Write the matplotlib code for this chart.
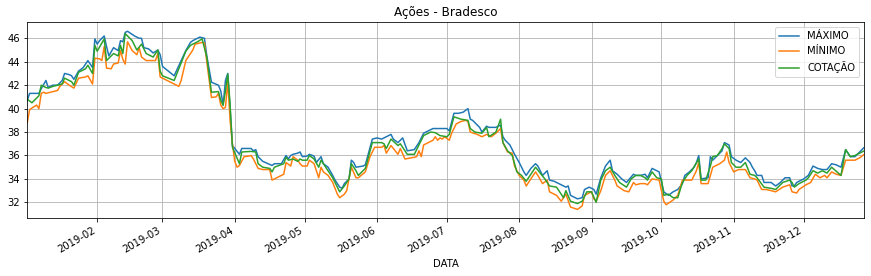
import pandas as pd
import matplotlib
matplotlib.use('Agg')
from matplotlib import pyplot as plt
import matplotlib.dates as mdates

# dias contados a partir de 2019-01-01
dias_max = [1, 2, 6, 7, 9, 10, 12, 14, 16, 17, 19, 20, 21, 23, 25, 27, 29, 30, 31, 32, 34, 35, 36, 38, 40,
            41, 42, 43, 44, 47, 49, 50, 51, 53, 55, 57, 58, 59, 64, 69, 71, 72, 75, 77, 78, 80, 83, 84, 85,
            86, 87, 88, 89, 92, 93, 97, 98, 99, 100, 102, 106, 107, 110, 112, 113, 114, 115, 117, 118, 119,
            121, 122, 124, 125, 127, 128, 130, 132, 133, 135, 136, 137, 139, 140, 141, 142, 145, 146, 149,
            151, 153, 155, 157, 158, 160, 162, 164, 167, 169, 171, 173, 175, 177, 179, 181, 182, 184, 186,
            188, 190, 191, 192, 195, 196, 198, 199, 202, 204, 205, 206, 208, 210, 212, 214, 215, 217, 219,
            220, 222, 224, 225, 227, 229, 232, 233, 234, 237, 239, 240, 242, 244, 245, 247, 249, 251, 252,
            254, 256, 258, 261, 262, 264, 266, 267, 269, 271, 272, 274, 276, 278, 280, 282, 283, 285, 287,
            288, 289, 290, 293, 294, 295, 297, 299, 300, 302, 303, 305, 307, 309, 311, 312, 313, 314, 316,
            317, 320, 322, 324, 326, 328, 329, 330, 331, 334, 336, 338, 340, 342, 344, 346, 348, 350, 352,
            354, 356, 358, 360]
maximo = [40.7, 41.3, 41.3, 41.7, 42.4, 41.8, 42.0, 42.0, 42.4, 43.0, 42.9, 42.8, 42.5, 43.2, 43.5, 44.1,
          43.5, 45.95, 45.5, 45.8, 46.2, 45.3, 44.5, 45.2, 44.95, 45.8, 45.7, 46.5, 46.6, 46.2, 46.0, 46.0,
          45.2, 45.1, 44.75, 45.0, 44.6, 43.6, 42.8, 44.95, 45.65, 45.8, 46.1, 46.0, 44.5, 42.25, 42.0,
          41.5, 40.3, 42.4, 43.0, 40.0, 36.85, 36.1, 36.6, 36.6, 36.4, 36.5, 35.9, 35.5, 35.15, 35.3, 35.3,
          36.0, 35.7, 36.0, 36.1, 36.2, 36.3, 35.9, 35.95, 36.1, 35.95, 35.4, 35.9, 35.3, 35.0, 34.3, 33.9,
          33.3, 33.2, 33.6, 34.0, 35.6, 35.4, 35.0, 35.1, 35.2, 37.4, 37.5, 37.4, 37.6, 37.8, 37.4, 37.1,
          37.5, 36.4, 36.5, 37.1, 37.9, 38.1, 38.3, 38.3, 38.3, 38.3, 38.1, 39.6, 39.6, 39.7, 40.0, 39.1,
          39.0, 38.4, 38.0, 38.5, 38.4, 38.4, 38.6, 37.6, 37.3, 36.9, 36.1, 35.4, 34.6, 34.3, 34.9, 35.3,
          35.1, 34.3, 34.7, 33.9, 33.8, 33.6, 33.3, 33.4, 32.6, 32.3, 32.4, 33.1, 33.3, 33.1, 32.7, 34.1,
          35.1, 35.6, 34.7, 34.4, 34.0, 33.7, 34.4, 34.3, 34.3, 34.4, 34.1, 34.9, 34.7, 34.6, 32.9, 32.6,
          32.9, 33.1, 33.6, 34.3, 34.6, 35.0, 35.4, 36.0, 34.0, 34.1, 35.9, 35.6, 36.0, 36.4, 37.1, 36.9,
          35.9, 35.6, 35.4, 35.8, 35.4, 35.0, 34.7, 34.3, 34.3, 33.7, 33.7, 33.4, 33.7, 34.1, 34.1, 33.4,
          33.4, 33.7, 34.0, 34.3, 35.1, 34.9, 34.8, 34.8, 35.3, 35.2, 35.0, 36.5, 35.9, 35.9, 36.3, 36.7]

dias_min = [1, 2, 3, 5, 6, 7, 8, 9, 14, 15, 17, 19, 21, 23, 26, 27, 29, 30, 32, 33, 34, 35, 37, 38, 40,
            41, 42, 43, 44, 46, 48, 49, 50, 52, 56, 57, 58, 66, 67, 69, 71, 72, 73, 76, 77, 78, 80, 82, 83,
            84, 85, 86, 87, 88, 89, 90, 91, 92, 94, 96, 97, 98, 100, 102, 105, 106, 107, 111, 112, 114, 115,
            117, 118, 119, 121, 122, 124, 126, 127, 128, 130, 132, 134, 135, 137, 138, 139, 140, 142, 143,
            146, 148, 150, 153, 154, 155, 157, 158, 160, 161, 163, 167, 168, 169, 170, 171, 173, 175, 176,
            177, 178, 179, 180, 182, 183, 185, 187, 189, 190, 191, 194, 196, 198, 200, 202, 204, 205, 207,
            209, 210, 212, 214, 215, 217, 219, 220, 222, 224, 225, 228, 230, 232, 234, 237, 239, 240, 243,
            244, 245, 247, 249, 251, 253, 254, 257, 259, 261, 262, 264, 266, 267, 269, 272, 274, 275, 278,
            280, 282, 286, 288, 289, 290, 293, 295, 298, 300, 301, 302, 304, 306, 309, 311, 313, 314, 316,
            318, 322, 325, 328, 329, 331, 332, 335, 337, 339, 341, 343, 344, 346, 348, 350, 352, 354, 356,
            358, 360]
minimo = [38.8, 39.9, 40.05, 40.3, 40.0, 41.3, 41.4, 41.3, 41.55, 41.9, 42.3, 42.0, 41.75, 42.6, 42.7,
          42.8, 42.1, 44.3, 44.25, 44.1, 45.3, 43.45, 43.4, 43.8, 43.9, 44.95, 44.2, 43.8, 45.7, 44.95,
          44.6, 45.2, 44.4, 44.1, 44.1, 44.7, 42.7, 41.9, 42.4, 44.1, 44.7, 45.0, 45.5, 45.65, 45.6, 44.0,
          40.95, 41.0, 41.3, 40.3, 40.0, 40.1, 42.3, 39.0, 37.0, 35.5, 35.0, 35.15, 35.9, 35.95, 36.0,
          35.7, 34.9, 34.8, 34.8, 33.9, 34.0, 34.4, 35.4, 35.1, 35.9, 35.6, 35.3, 35.1, 35.1, 35.6, 35.3,
          34.1, 35.0, 34.6, 34.3, 33.7, 32.7, 32.4, 32.7, 33.0, 34.0, 35.0, 34.1, 34.1, 34.6, 35.9, 36.7,
          36.7, 36.85, 36.2, 36.85, 36.6, 36.1, 36.6, 35.7, 35.85, 35.9, 36.4, 35.9, 36.9, 37.1, 37.3,
          37.6, 37.3, 37.5, 37.4, 37.6, 37.3, 37.9, 38.7, 38.9, 39.0, 38.9, 38.0, 37.8, 37.6, 37.8, 37.6,
          37.9, 38.3, 37.1, 36.3, 36.2, 35.1, 34.3, 33.9, 33.4, 34.0, 34.6, 34.3, 33.6, 33.9, 32.9, 32.6,
          32.1, 32.7, 31.6, 31.4, 31.7, 32.6, 32.9, 32.3, 32.1, 33.0, 34.3, 34.7, 33.9, 33.4, 33.0, 32.9,
          33.7, 33.5, 33.6, 33.6, 33.5, 34.0, 33.9, 32.1, 31.8, 32.2, 32.6, 33.9, 33.9, 34.7, 35.4, 33.6,
          33.6, 35.0, 35.3, 35.6, 36.3, 35.4, 34.6, 34.8, 34.8, 34.1, 34.0, 33.9, 33.1, 33.1, 32.9, 33.3,
          33.5, 32.9, 32.8, 33.1, 33.5, 33.7, 34.4, 34.1, 34.3, 34.1, 34.6, 34.4, 34.3, 35.6, 35.6, 35.6,
          35.8, 36.1]

dias_cot = [1, 3, 6, 7, 9, 10, 12, 14, 16, 17, 20, 21, 23, 26, 27, 29, 30, 31, 34, 35, 38, 40, 41, 42, 43,
            46, 48, 50, 52, 55, 57, 58, 59, 64, 69, 71, 74, 76, 78, 80, 83, 84, 85, 86, 87, 88, 89, 92, 93,
            97, 99, 100, 102, 105, 106, 107, 111, 112, 113, 115, 117, 118, 119, 121, 122, 124, 126, 127,
            129, 132, 135, 137, 139, 140, 142, 143, 146, 149, 153, 154, 155, 157, 160, 161, 164, 167, 169,
            171, 174, 176, 178, 181, 182, 184, 187, 190, 191, 193, 196, 198, 199, 202, 204, 205, 207, 209,
            211, 213, 215, 219, 221, 223, 225, 228, 231, 232, 234, 237, 239, 241, 243, 245, 247, 249, 251,
            253, 255, 258, 260, 262, 264, 266, 267, 269, 271, 273, 274, 276, 278, 280, 282, 284, 286, 289,
            290, 292, 294, 295, 297, 299, 300, 302, 303, 305, 307, 309, 311, 313, 314, 317, 320, 322, 325,
            328, 329, 330, 332, 335, 336, 338, 340, 342, 344, 346, 350, 352, 354, 356, 358, 360]
cotacao = [40.8, 40.5, 41.1, 42.0, 41.8, 41.75, 41.9, 42.0, 42.1, 42.6, 42.3, 42.0, 43.1, 43.4, 43.7,
           43.0, 45.4, 44.9, 45.95, 44.1, 44.7, 44.5, 45.4, 44.7, 46.4, 45.8, 45.0, 45.5, 44.7, 44.4, 45.0,
           43.2, 42.8, 42.4, 44.9, 45.4, 45.7, 45.95, 44.4, 41.4, 41.45, 40.7, 40.3, 41.5, 42.95, 40.3,
           36.7, 35.3, 36.3, 36.35, 36.3, 35.3, 35.0, 34.9, 34.6, 35.0, 35.3, 35.85, 35.6, 35.7, 35.5,
           35.7, 35.6, 35.6, 36.0, 35.7, 35.0, 35.6, 35.0, 34.1, 32.9, 33.4, 34.0, 35.3, 34.7, 34.3, 34.9,
           37.1, 37.1, 37.0, 36.6, 37.4, 36.85, 37.0, 36.1, 36.1, 36.9, 37.7, 38.0, 37.95, 37.7, 37.6,
           37.8, 39.3, 39.1, 39.0, 38.3, 38.0, 37.9, 38.4, 37.6, 38.0, 39.1, 37.1, 36.4, 36.0, 34.6, 34.3,
           33.8, 35.0, 34.5, 34.0, 33.4, 33.3, 32.4, 33.0, 32.1, 31.9, 32.1, 32.9, 32.9, 32.0, 33.9, 34.7,
           35.0, 34.3, 33.7, 33.3, 34.0, 34.3, 34.3, 34.1, 33.9, 34.6, 34.1, 34.0, 32.6, 32.7, 32.4, 32.4,
           33.7, 34.3, 34.7, 35.7, 33.9, 33.9, 35.1, 35.9, 36.0, 36.6, 37.0, 36.6, 35.4, 35.0, 35.0, 35.4,
           34.4, 34.3, 34.1, 33.3, 33.2, 33.1, 33.7, 33.9, 33.7, 33.3, 33.6, 33.9, 34.1, 34.7, 34.5, 34.7,
           34.5, 35.0, 34.3, 36.5, 35.9, 36.0, 36.2, 36.4]

inicio = pd.Timestamp('2019-01-01')


def para_datas(dias):
    return inicio + pd.to_timedelta(dias, unit='D')


fig, ax = plt.subplots(figsize=(871 / 72, 276 / 72), dpi=72)
ax.plot(para_datas(dias_max), maximo, label='MÁXIMO')
ax.plot(para_datas(dias_min), minimo, label='MÍNIMO')
ax.plot(para_datas(dias_cot), cotacao, label='COTAÇÃO')

ax.set_xlim(para_datas([1])[0], para_datas([360])[0])
ax.xaxis.set_major_locator(mdates.MonthLocator())
ax.xaxis.set_major_formatter(mdates.DateFormatter('%Y-%m'))
ax.set_yticks([32, 34, 36, 38, 40, 42, 44, 46])
ax.grid(True)
ax.legend(loc='upper right')
ax.set_title('Ações - Bradesco')
ax.set_xlabel('DATA')
fig.autofmt_xdate()
plt.subplots_adjust(left=0.0313, right=0.9923, top=0.919, bottom=0.209)
plt.savefig('out.png', dpi=72)
